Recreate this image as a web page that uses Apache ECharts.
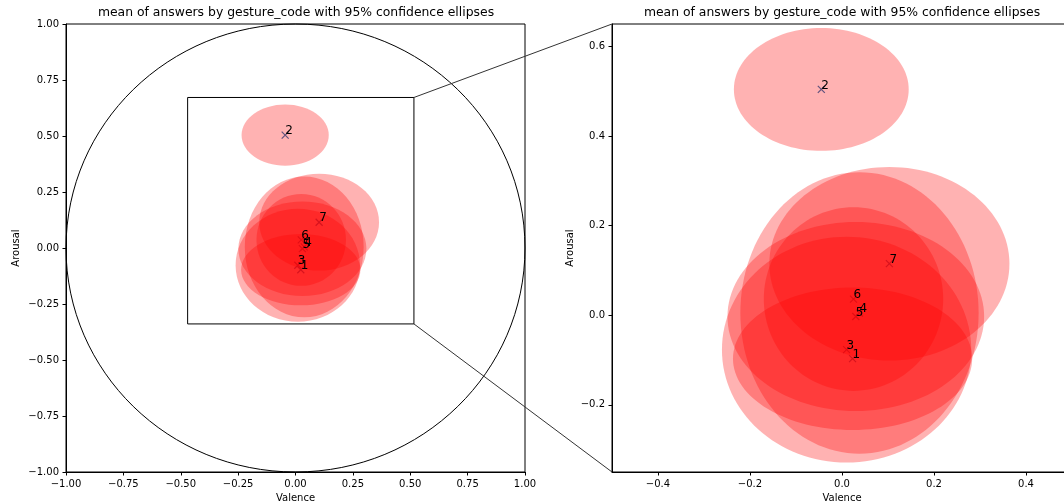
<!DOCTYPE html>
<html><head><meta charset="utf-8">
<script src="https://cdn.jsdelivr.net/npm/echarts@6/dist/echarts.min.js"></script>
<style>html,body{margin:0;padding:0;background:#fff}#c{width:1064px;height:504px}</style>
</head><body><div id="c"></div>
<script>
// ---- data ----
const gestureCodes = ['1', '2', '3', '4', '5', '6', '7'];
const valence      = [0.023, -0.045, 0.010, 0.038, 0.030, 0.025, 0.103];
const arousal      = [-0.097, 0.504, -0.077, 0.005, -0.003, 0.036, 0.115];
const ellipseHalfWidth  = [0.260, 0.190, 0.271, 0.259, 0.279, 0.195, 0.261];
const ellipseHalfHeight = [0.159, 0.137, 0.252, 0.314, 0.211, 0.205, 0.216];

const overviewRange = [-1, 1];
const overviewTickStep = 0.25;
const unitCircleRadius = 1;
const insetRectX = [-0.47, 0.516];
const insetRectY = [-0.339, 0.672];
const zoomXRange = [-0.5, 0.5];
const zoomYRange = [-0.35, 0.65];
const zoomXTicks = [-0.4, -0.2, 0.0, 0.2, 0.4];
const zoomYTicks = [-0.2, 0.0, 0.2, 0.4, 0.6];
const titleText = 'mean of answers by gesture_code with 95% confidence ellipses';

// ---- chart ----
const FONT = 'DejaVu Sans';
const chart = echarts.init(document.getElementById('c'), null, {renderer: 'canvas'});

function fmt(d) {
  return function (v) {
    const s = Math.abs(v).toFixed(d);
    return (v < -1e-9 ? '\u2212' : '') + s;
  };
}
function axis(extra) {
  return Object.assign({
    type: 'value',
    splitLine: {show: false},
    axisLine: {show: true, onZero: false, lineStyle: {color: '#000', width: 1}},
    axisTick: {show: true, inside: false, length: 3.5, lineStyle: {color: '#000', width: 1}},
    axisLabel: {color: '#000', fontSize: 10, fontFamily: FONT, margin: 7},
    nameLocation: 'middle',
    nameTextStyle: {color: '#000', fontSize: 10, fontFamily: FONT}
  }, extra);
}

const rows = valence.map((v, i) => [v, arousal[i], ellipseHalfWidth[i], ellipseHalfHeight[i], i]);

function renderEllipse(params, api) {
  const c = api.coord([api.value(0), api.value(1)]);
  const s = api.size([api.value(2), api.value(3)]);
  return {type: 'ellipse', shape: {cx: c[0], cy: c[1], rx: s[0], ry: s[1]},
          style: {fill: 'rgba(255,0,0,0.3)', stroke: null}};
}
function renderMarker(params, api) {
  const c = api.coord([api.value(0), api.value(1)]);
  const h = 3.5;
  const st = {stroke: '#1f77b4', lineWidth: 1.2};
  return {type: 'group', children: [
    {type: 'line', shape: {x1: c[0] - h, y1: c[1] - h, x2: c[0] + h, y2: c[1] + h}, style: st},
    {type: 'line', shape: {x1: c[0] - h, y1: c[1] + h, x2: c[0] + h, y2: c[1] - h}, style: st}
  ]};
}
function renderLabel(params, api) {
  const c = api.coord([api.value(0), api.value(1)]);
  return {type: 'text', x: c[0], y: c[1] + 2,
          style: {text: gestureCodes[api.value(4)], fill: '#000', fontSize: 12, fontFamily: FONT,
                  align: 'left', verticalAlign: 'bottom'}};
}
function renderCircle(params, api) {
  const c = api.coord([api.value(0), api.value(1)]);
  const s = api.size([api.value(2), api.value(2)]);
  return {type: 'ellipse', shape: {cx: c[0], cy: c[1], rx: s[0], ry: s[1]},
          style: {fill: 'none', stroke: '#000', lineWidth: 1}};
}
function renderRect(params, api) {
  const p0 = api.coord([api.value(0), api.value(3)]);
  const p1 = api.coord([api.value(2), api.value(1)]);
  return {type: 'rect', shape: {x: p0[0], y: p0[1], width: p1[0] - p0[0], height: p1[1] - p0[1]},
          style: {fill: 'none', stroke: '#000', lineWidth: 1}};
}

function panelSeries(g) {
  return [
    {type: 'custom', xAxisIndex: g, yAxisIndex: g, z: 1, renderItem: renderMarker, data: rows, silent: true},
    {type: 'custom', xAxisIndex: g, yAxisIndex: g, z: 2, renderItem: renderEllipse, data: rows, silent: true},
    {type: 'custom', xAxisIndex: g, yAxisIndex: g, z: 3, renderItem: renderLabel, data: rows, silent: true}
  ];
}

const option = {
  animation: false,
  backgroundColor: '#fff',
  title: [
    {text: titleText, left: 296, top: 7, textAlign: 'center', padding: 0,
     textStyle: {fontSize: 12.4, fontWeight: 'normal', color: '#000', fontFamily: FONT}},
    {text: titleText, left: 842, top: 7, textAlign: 'center', padding: 0,
     textStyle: {fontSize: 12.4, fontWeight: 'normal', color: '#000', fontFamily: FONT}}
  ],
  grid: [
    {left: 66, top: 24, width: 459, height: 448, show: true, borderColor: '#000', borderWidth: 1,
     backgroundColor: 'transparent', containLabel: false, outerBoundsMode: 'none'},
    {left: 612, top: 24, width: 460, height: 448, show: true, borderColor: '#000', borderWidth: 1,
     backgroundColor: 'transparent', containLabel: false, outerBoundsMode: 'none'}
  ],
  xAxis: [
    axis({gridIndex: 0, min: overviewRange[0], max: overviewRange[1], interval: overviewTickStep,
          name: 'Valence', nameGap: 20,
          axisLabel: {color: '#000', fontSize: 10, fontFamily: FONT, margin: 7, formatter: fmt(2)}}),
    axis({gridIndex: 1, min: zoomXRange[0], max: zoomXRange[1], interval: 0.1,
          name: 'Valence', nameGap: 20,
          axisTick: {show: true, inside: false, length: 3.5, customValues: zoomXTicks, lineStyle: {color: '#000'}},
          axisLabel: {color: '#000', fontSize: 10, fontFamily: FONT, margin: 7, customValues: zoomXTicks, formatter: fmt(1)}})
  ],
  yAxis: [
    axis({gridIndex: 0, min: overviewRange[0], max: overviewRange[1], interval: overviewTickStep,
          name: 'Arousal', nameGap: 45,
          axisLabel: {color: '#000', fontSize: 10, fontFamily: FONT, margin: 7, formatter: fmt(2)}}),
    axis({gridIndex: 1, min: zoomYRange[0], max: zoomYRange[1], interval: 0.05,
          name: 'Arousal', nameGap: 37,
          axisTick: {show: true, inside: false, length: 3.5, customValues: zoomYTicks, lineStyle: {color: '#000'}},
          axisLabel: {color: '#000', fontSize: 10, fontFamily: FONT, margin: 7, customValues: zoomYTicks, formatter: fmt(1)}})
  ],
  series: [
    {type: 'custom', xAxisIndex: 0, yAxisIndex: 0, z: 0, renderItem: renderCircle,
     data: [[0, 0, unitCircleRadius]], silent: true},
    {type: 'custom', xAxisIndex: 0, yAxisIndex: 0, z: 4, renderItem: renderRect,
     data: [[insetRectX[0], insetRectY[0], insetRectX[1], insetRectY[1]]], silent: true}
  ].concat(panelSeries(0), panelSeries(1))
};
chart.setOption(option);

// connector lines between the inset rectangle and the zoomed panel
const a1 = chart.convertToPixel({gridIndex: 0}, [insetRectX[1], insetRectY[1]]);
const a2 = chart.convertToPixel({gridIndex: 0}, [insetRectX[1], insetRectY[0]]);
const b1 = chart.convertToPixel({gridIndex: 1}, [zoomXRange[0], zoomYRange[1]]);
const b2 = chart.convertToPixel({gridIndex: 1}, [zoomXRange[0], zoomYRange[0]]);
chart.setOption({graphic: [
  {type: 'line', z: 10, shape: {x1: a1[0], y1: a1[1], x2: b1[0], y2: b1[1]}, style: {stroke: '#333', lineWidth: 1}},
  {type: 'line', z: 10, shape: {x1: a2[0], y1: a2[1], x2: b2[0], y2: b2[1]}, style: {stroke: '#333', lineWidth: 1}}
]});
</script>
</body></html>
